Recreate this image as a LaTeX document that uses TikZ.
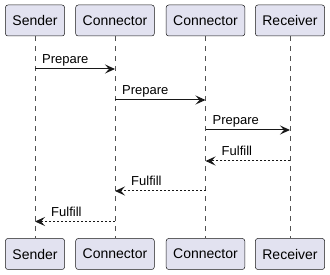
\documentclass[tikz,border=0pt]{standalone}
\usepackage{fontspec}
\setmainfont{Liberation Sans}
\usetikzlibrary{arrows.meta}
\definecolor{ink}{HTML}{181818}
\definecolor{partfill}{HTML}{E2E2F0}
\tikzset{
  part/.style={draw=ink, line width=0.5pt, fill=partfill, rounded corners=2.5pt,
    minimum height=31pt, inner xsep=7pt, inner ysep=0pt, font=\fontsize{14}{16}\selectfont},
  lifeline/.style={draw=ink!75, line width=0.5pt, dash pattern=on 5pt off 5pt},
  msg/.style={draw=ink, line width=1pt, -{Stealth[length=10pt,width=9pt,inset=4pt]}},
  reply/.style={msg, dash pattern=on 2pt off 2pt},
  msglabel/.style={inner sep=0pt, font=\fontsize{13}{15}\selectfont},
}
\begin{document}
\begin{tikzpicture}[x=1pt, y=-1pt]
\useasboundingbox (0,0) rectangle (330,275);

% participants, top and bottom
\node[part] (s)  at (35,20.5)  {Sender};
\node[part] (c1) at (115,20.5) {Connector};
\node[part] (c2) at (205.5,20.5) {Connector};
\node[part] (r)  at (290,20.5) {Receiver};
\node[part] (sb)  at (35,254)  {Sender};
\node[part] (c1b) at (115,254) {Connector};
\node[part] (c2b) at (205.5,254) {Connector};
\node[part] (rb)  at (290,254) {Receiver};

% lifelines
\draw[lifeline] (s.south) -- (sb.north);
\draw[lifeline] (c1.south) -- (c1b.north);
\draw[lifeline] (c2.south) -- (c2b.north);
\draw[lifeline] (r.south) -- (rb.north);

% message anchor points on the lifelines
\coordinate (m1a) at (s |- 0,69);    \coordinate (m1b) at (c1 |- 0,69);
\coordinate (m2a) at (c1 |- 0,100);  \coordinate (m2b) at (c2 |- 0,100);
\coordinate (m3a) at (c2 |- 0,130);  \coordinate (m3b) at (r |- 0,130);
\coordinate (m4a) at (r |- 0,161);   \coordinate (m4b) at (c2 |- 0,161);
\coordinate (m5a) at (c2 |- 0,191);  \coordinate (m5b) at (c1 |- 0,191);
\coordinate (m6a) at (c1 |- 0,221.5);\coordinate (m6b) at (s |- 0,221.5);

% requests
\draw[msg] (m1a) -- (m1b);
\node[msglabel, anchor=base west] at ([shift={(7,-5)}]m1a) {Prepare};
\draw[msg] (m2a) -- (m2b);
\node[msglabel, anchor=base west] at ([shift={(7,-5)}]m2a) {Prepare};
\draw[msg] (m3a) -- (m3b);
\node[msglabel, anchor=base west] at ([shift={(7,-5)}]m3a) {Prepare};

% replies
\draw[reply] (m4a) -- (m4b);
\node[msglabel, anchor=base west] at ([shift={(16,-5)}]m4b) {Fulfill};
\draw[reply] (m5a) -- (m5b);
\node[msglabel, anchor=base west] at ([shift={(16,-5)}]m5b) {Fulfill};
\draw[reply] (m6a) -- (m6b);
\node[msglabel, anchor=base west] at ([shift={(16,-5)}]m6b) {Fulfill};
\end{tikzpicture}
\end{document}
